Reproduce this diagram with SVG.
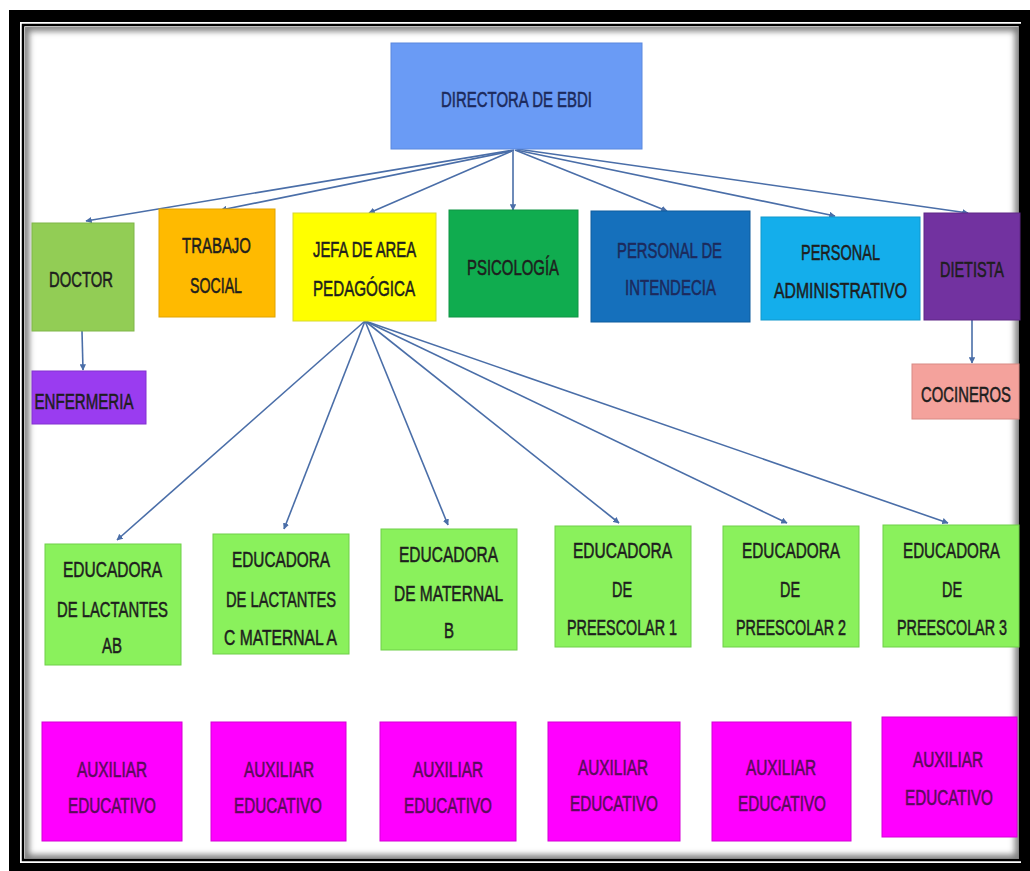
<svg xmlns="http://www.w3.org/2000/svg" width="1030" height="871" viewBox="0 0 1030 871">
<style>
.n{stroke-width:1}
.t{font-family:"Liberation Sans","DejaVu Sans",sans-serif;font-size:22px;text-anchor:middle;fill:#1e1e1e;stroke:#1e1e1e;stroke-width:0.55;}
.tn{fill:#1c2a5c;stroke:#1c2a5c}
.tp{fill:#5a0c5a;stroke:#5a0c5a}
.c{fill:none;stroke:#4a6ea8;stroke-width:1.6}
</style>
<defs>
<marker id="ah" viewBox="0 0 10 10" refX="9" refY="5" markerWidth="4" markerHeight="4" orient="auto" markerUnits="strokeWidth">
<path d="M0,0 L10,5 L0,10 z" fill="#4a6ea8"/>
</marker>
<filter id="blur" x="-5%" y="-5%" width="110%" height="110%"><feGaussianBlur stdDeviation="3"/></filter>
<clipPath id="inner"><rect x="25" y="27" width="994" height="832"/></clipPath>
</defs>
<rect width="1030" height="871" fill="#ffffff"/>
<rect x="9" y="10" width="1030" height="870" fill="#000"/>
<rect x="20" y="22" width="1001" height="841" fill="#fff"/>
<rect x="23" y="25" width="997" height="835" fill="#fff" stroke="#000" stroke-width="2.5"/>
<g clip-path="url(#inner)">
<rect x="25" y="27" width="994" height="832" fill="none" stroke="#777" stroke-width="8" filter="url(#blur)"/>
</g>
<g id="connectors">
<line class="c" x1="514" y1="150" x2="86" y2="221" marker-end="url(#ah)"/>
<line class="c" x1="512" y1="151" x2="221" y2="210" marker-end="url(#ah)"/>
<line class="c" x1="512" y1="151" x2="369" y2="213" marker-end="url(#ah)"/>
<line class="c" x1="513" y1="150" x2="513" y2="210" marker-end="url(#ah)"/>
<line class="c" x1="515" y1="150" x2="667" y2="211" marker-end="url(#ah)"/>
<line class="c" x1="516" y1="150" x2="835" y2="216" marker-end="url(#ah)"/>
<line class="c" x1="517" y1="149" x2="968" y2="213" marker-end="url(#ah)"/>
<line class="c" x1="82" y1="331" x2="83" y2="370" marker-end="url(#ah)"/>
<line class="c" x1="972" y1="320" x2="972" y2="363" marker-end="url(#ah)"/>
<line class="c" x1="365" y1="321" x2="117" y2="540" marker-end="url(#ah)"/>
<line class="c" x1="365" y1="321" x2="284" y2="529" marker-end="url(#ah)"/>
<line class="c" x1="365" y1="321" x2="448" y2="525" marker-end="url(#ah)"/>
<line class="c" x1="365" y1="321" x2="619" y2="523" marker-end="url(#ah)"/>
<line class="c" x1="365" y1="321" x2="787" y2="523" marker-end="url(#ah)"/>
<line class="c" x1="365" y1="321" x2="948" y2="523" marker-end="url(#ah)"/>
</g>
<g id="directora">
<rect class="n" x="391" y="43" width="251" height="106" fill="#6a9bf5" stroke="#5a88de"/>
<text class="t tn" transform="translate(516.5,107) scale(0.72,1)" textLength="209.7" lengthAdjust="spacingAndGlyphs">DIRECTORA DE EBDI</text>
</g>
<g id="doctor">
<rect class="n" x="32" y="223" width="102" height="108" fill="#92cd55" stroke="#7fb548"/>
<text class="t" transform="translate(81,287) scale(0.72,1)" textLength="88.9" lengthAdjust="spacingAndGlyphs">DOCTOR</text>
</g>
<g id="trabajo">
<rect class="n" x="159" y="209" width="116" height="108" fill="#ffba00" stroke="#e0a300"/>
<text class="t" transform="translate(216.5,253) scale(0.72,1)" textLength="95.8" lengthAdjust="spacingAndGlyphs">TRABAJO</text>
<text class="t" transform="translate(216,293) scale(0.72,1)" textLength="72.2" lengthAdjust="spacingAndGlyphs">SOCIAL</text>
</g>
<g id="jefa">
<rect class="n" x="293" y="213" width="143" height="108" fill="#ffff00" stroke="#d8d830"/>
<text class="t" transform="translate(364.5,257) scale(0.72,1)" textLength="143.1" lengthAdjust="spacingAndGlyphs">JEFA DE AREA</text>
<text class="t" transform="translate(364,296) scale(0.72,1)" textLength="141.7" lengthAdjust="spacingAndGlyphs">PEDAGÓGICA</text>
</g>
<g id="psicologia">
<rect class="n" x="449" y="210" width="129" height="107" fill="#10ac4f" stroke="#0e9444"/>
<text class="t" transform="translate(513,275) scale(0.72,1)" textLength="127.8" lengthAdjust="spacingAndGlyphs">PSICOLOGÍA</text>
</g>
<g id="intendecia">
<rect class="n" x="591" y="211" width="159" height="111" fill="#1570bc" stroke="#0f5c9e"/>
<text class="t tn" transform="translate(669.5,258) scale(0.72,1)" textLength="145.8" lengthAdjust="spacingAndGlyphs">PERSONAL DE</text>
<text class="t tn" transform="translate(670.5,295) scale(0.72,1)" textLength="126.4" lengthAdjust="spacingAndGlyphs">INTENDECIA</text>
</g>
<g id="administrativo">
<rect class="n" x="761" y="217" width="159" height="103" fill="#14aeeb" stroke="#1198cc"/>
<text class="t" transform="translate(840.5,260) scale(0.72,1)" textLength="109.7" lengthAdjust="spacingAndGlyphs">PERSONAL</text>
<text class="t" transform="translate(840.5,298) scale(0.72,1)" textLength="184.7" lengthAdjust="spacingAndGlyphs">ADMINISTRATIVO</text>
</g>
<g id="dietista">
<rect class="n" x="924" y="213" width="96" height="107" fill="#7232a0" stroke="#5e2786"/>
<text class="t" transform="translate(972,277) scale(0.72,1)" textLength="88.9" lengthAdjust="spacingAndGlyphs">DIETISTA</text>
</g>
<g id="enfermeria">
<rect class="n" x="32" y="371" width="114" height="53" fill="#9a3cf0" stroke="#8230d0"/>
<text class="t" transform="translate(84,409) scale(0.72,1)" textLength="137.5" lengthAdjust="spacingAndGlyphs">ENFERMERIA</text>
</g>
<g id="cocineros">
<rect class="n" x="912" y="364" width="107" height="55" fill="#f4a29c" stroke="#d88a84"/>
<text class="t" transform="translate(966,402) scale(0.72,1)" textLength="125" lengthAdjust="spacingAndGlyphs">COCINEROS</text>
</g>
<g id="edu1">
<rect class="n" x="45" y="544" width="136" height="121" fill="#8af15c" stroke="#6fcf48"/>
<text class="t" transform="translate(112.5,577) scale(0.72,1)" textLength="137.5" lengthAdjust="spacingAndGlyphs">EDUCADORA</text>
<text class="t" transform="translate(112.5,617) scale(0.72,1)" textLength="154.2" lengthAdjust="spacingAndGlyphs">DE LACTANTES</text>
<text class="t" transform="translate(112,653) scale(0.72,1)" textLength="27.8" lengthAdjust="spacingAndGlyphs">AB</text>
</g>
<g id="edu2">
<rect class="n" x="213" y="534" width="136" height="120" fill="#8af15c" stroke="#6fcf48"/>
<text class="t" transform="translate(281,567) scale(0.72,1)" textLength="136.1" lengthAdjust="spacingAndGlyphs">EDUCADORA</text>
<text class="t" transform="translate(281,607) scale(0.72,1)" textLength="152.8" lengthAdjust="spacingAndGlyphs">DE LACTANTES</text>
<text class="t" transform="translate(280.5,645) scale(0.72,1)" textLength="156.9" lengthAdjust="spacingAndGlyphs">C MATERNAL A</text>
</g>
<g id="edu3">
<rect class="n" x="381" y="529" width="136" height="121" fill="#8af15c" stroke="#6fcf48"/>
<text class="t" transform="translate(448.5,562) scale(0.72,1)" textLength="137.5" lengthAdjust="spacingAndGlyphs">EDUCADORA</text>
<text class="t" transform="translate(448.5,601) scale(0.72,1)" textLength="151.4" lengthAdjust="spacingAndGlyphs">DE MATERNAL</text>
<text class="t" transform="translate(449,638) scale(0.72,1)" textLength="13.9" lengthAdjust="spacingAndGlyphs">B</text>
</g>
<g id="edu4">
<rect class="n" x="555" y="526" width="136" height="121" fill="#8af15c" stroke="#6fcf48"/>
<text class="t" transform="translate(622.5,558) scale(0.72,1)" textLength="137.5" lengthAdjust="spacingAndGlyphs">EDUCADORA</text>
<text class="t" transform="translate(622,597) scale(0.72,1)" textLength="27.8" lengthAdjust="spacingAndGlyphs">DE</text>
<text class="t" transform="translate(622,635) scale(0.72,1)" textLength="152.8" lengthAdjust="spacingAndGlyphs">PREESCOLAR 1</text>
</g>
<g id="edu5">
<rect class="n" x="723" y="526" width="136" height="121" fill="#8af15c" stroke="#6fcf48"/>
<text class="t" transform="translate(791,558) scale(0.72,1)" textLength="136.1" lengthAdjust="spacingAndGlyphs">EDUCADORA</text>
<text class="t" transform="translate(790,597) scale(0.72,1)" textLength="27.8" lengthAdjust="spacingAndGlyphs">DE</text>
<text class="t" transform="translate(791,635) scale(0.72,1)" textLength="152.8" lengthAdjust="spacingAndGlyphs">PREESCOLAR 2</text>
</g>
<g id="edu6">
<rect class="n" x="883" y="525" width="136" height="122" fill="#8af15c" stroke="#6fcf48"/>
<text class="t" transform="translate(951.5,558) scale(0.72,1)" textLength="134.7" lengthAdjust="spacingAndGlyphs">EDUCADORA</text>
<text class="t" transform="translate(952,597) scale(0.72,1)" textLength="27.8" lengthAdjust="spacingAndGlyphs">DE</text>
<text class="t" transform="translate(952,635) scale(0.72,1)" textLength="152.8" lengthAdjust="spacingAndGlyphs">PREESCOLAR 3</text>
</g>
<g id="aux1">
<rect class="n" x="42" y="722" width="140" height="119" fill="#ff00ff" stroke="#d400d4"/>
<text class="t tp" transform="translate(112,777) scale(0.72,1)" textLength="97.2" lengthAdjust="spacingAndGlyphs">AUXILIAR</text>
<text class="t tp" transform="translate(112,813) scale(0.72,1)" textLength="122.2" lengthAdjust="spacingAndGlyphs">EDUCATIVO</text>
</g>
<g id="aux2">
<rect class="n" x="211" y="722" width="135" height="119" fill="#ff00ff" stroke="#d400d4"/>
<text class="t tp" transform="translate(279,777) scale(0.72,1)" textLength="97.2" lengthAdjust="spacingAndGlyphs">AUXILIAR</text>
<text class="t tp" transform="translate(278,813) scale(0.72,1)" textLength="122.2" lengthAdjust="spacingAndGlyphs">EDUCATIVO</text>
</g>
<g id="aux3">
<rect class="n" x="380" y="722" width="136" height="119" fill="#ff00ff" stroke="#d400d4"/>
<text class="t tp" transform="translate(448,777) scale(0.72,1)" textLength="97.2" lengthAdjust="spacingAndGlyphs">AUXILIAR</text>
<text class="t tp" transform="translate(448,813) scale(0.72,1)" textLength="122.2" lengthAdjust="spacingAndGlyphs">EDUCATIVO</text>
</g>
<g id="aux4">
<rect class="n" x="548" y="722" width="132" height="119" fill="#ff00ff" stroke="#d400d4"/>
<text class="t tp" transform="translate(613,775) scale(0.72,1)" textLength="97.2" lengthAdjust="spacingAndGlyphs">AUXILIAR</text>
<text class="t tp" transform="translate(614,811) scale(0.72,1)" textLength="122.2" lengthAdjust="spacingAndGlyphs">EDUCATIVO</text>
</g>
<g id="aux5">
<rect class="n" x="712" y="722" width="139" height="119" fill="#ff00ff" stroke="#d400d4"/>
<text class="t tp" transform="translate(781,775) scale(0.72,1)" textLength="97.2" lengthAdjust="spacingAndGlyphs">AUXILIAR</text>
<text class="t tp" transform="translate(782,811) scale(0.72,1)" textLength="122.2" lengthAdjust="spacingAndGlyphs">EDUCATIVO</text>
</g>
<g id="aux6">
<rect class="n" x="882" y="717" width="135" height="120" fill="#ff00ff" stroke="#d400d4"/>
<text class="t tp" transform="translate(948,767) scale(0.72,1)" textLength="97.2" lengthAdjust="spacingAndGlyphs">AUXILIAR</text>
<text class="t tp" transform="translate(949,805) scale(0.72,1)" textLength="122.2" lengthAdjust="spacingAndGlyphs">EDUCATIVO</text>
</g>
</svg>
